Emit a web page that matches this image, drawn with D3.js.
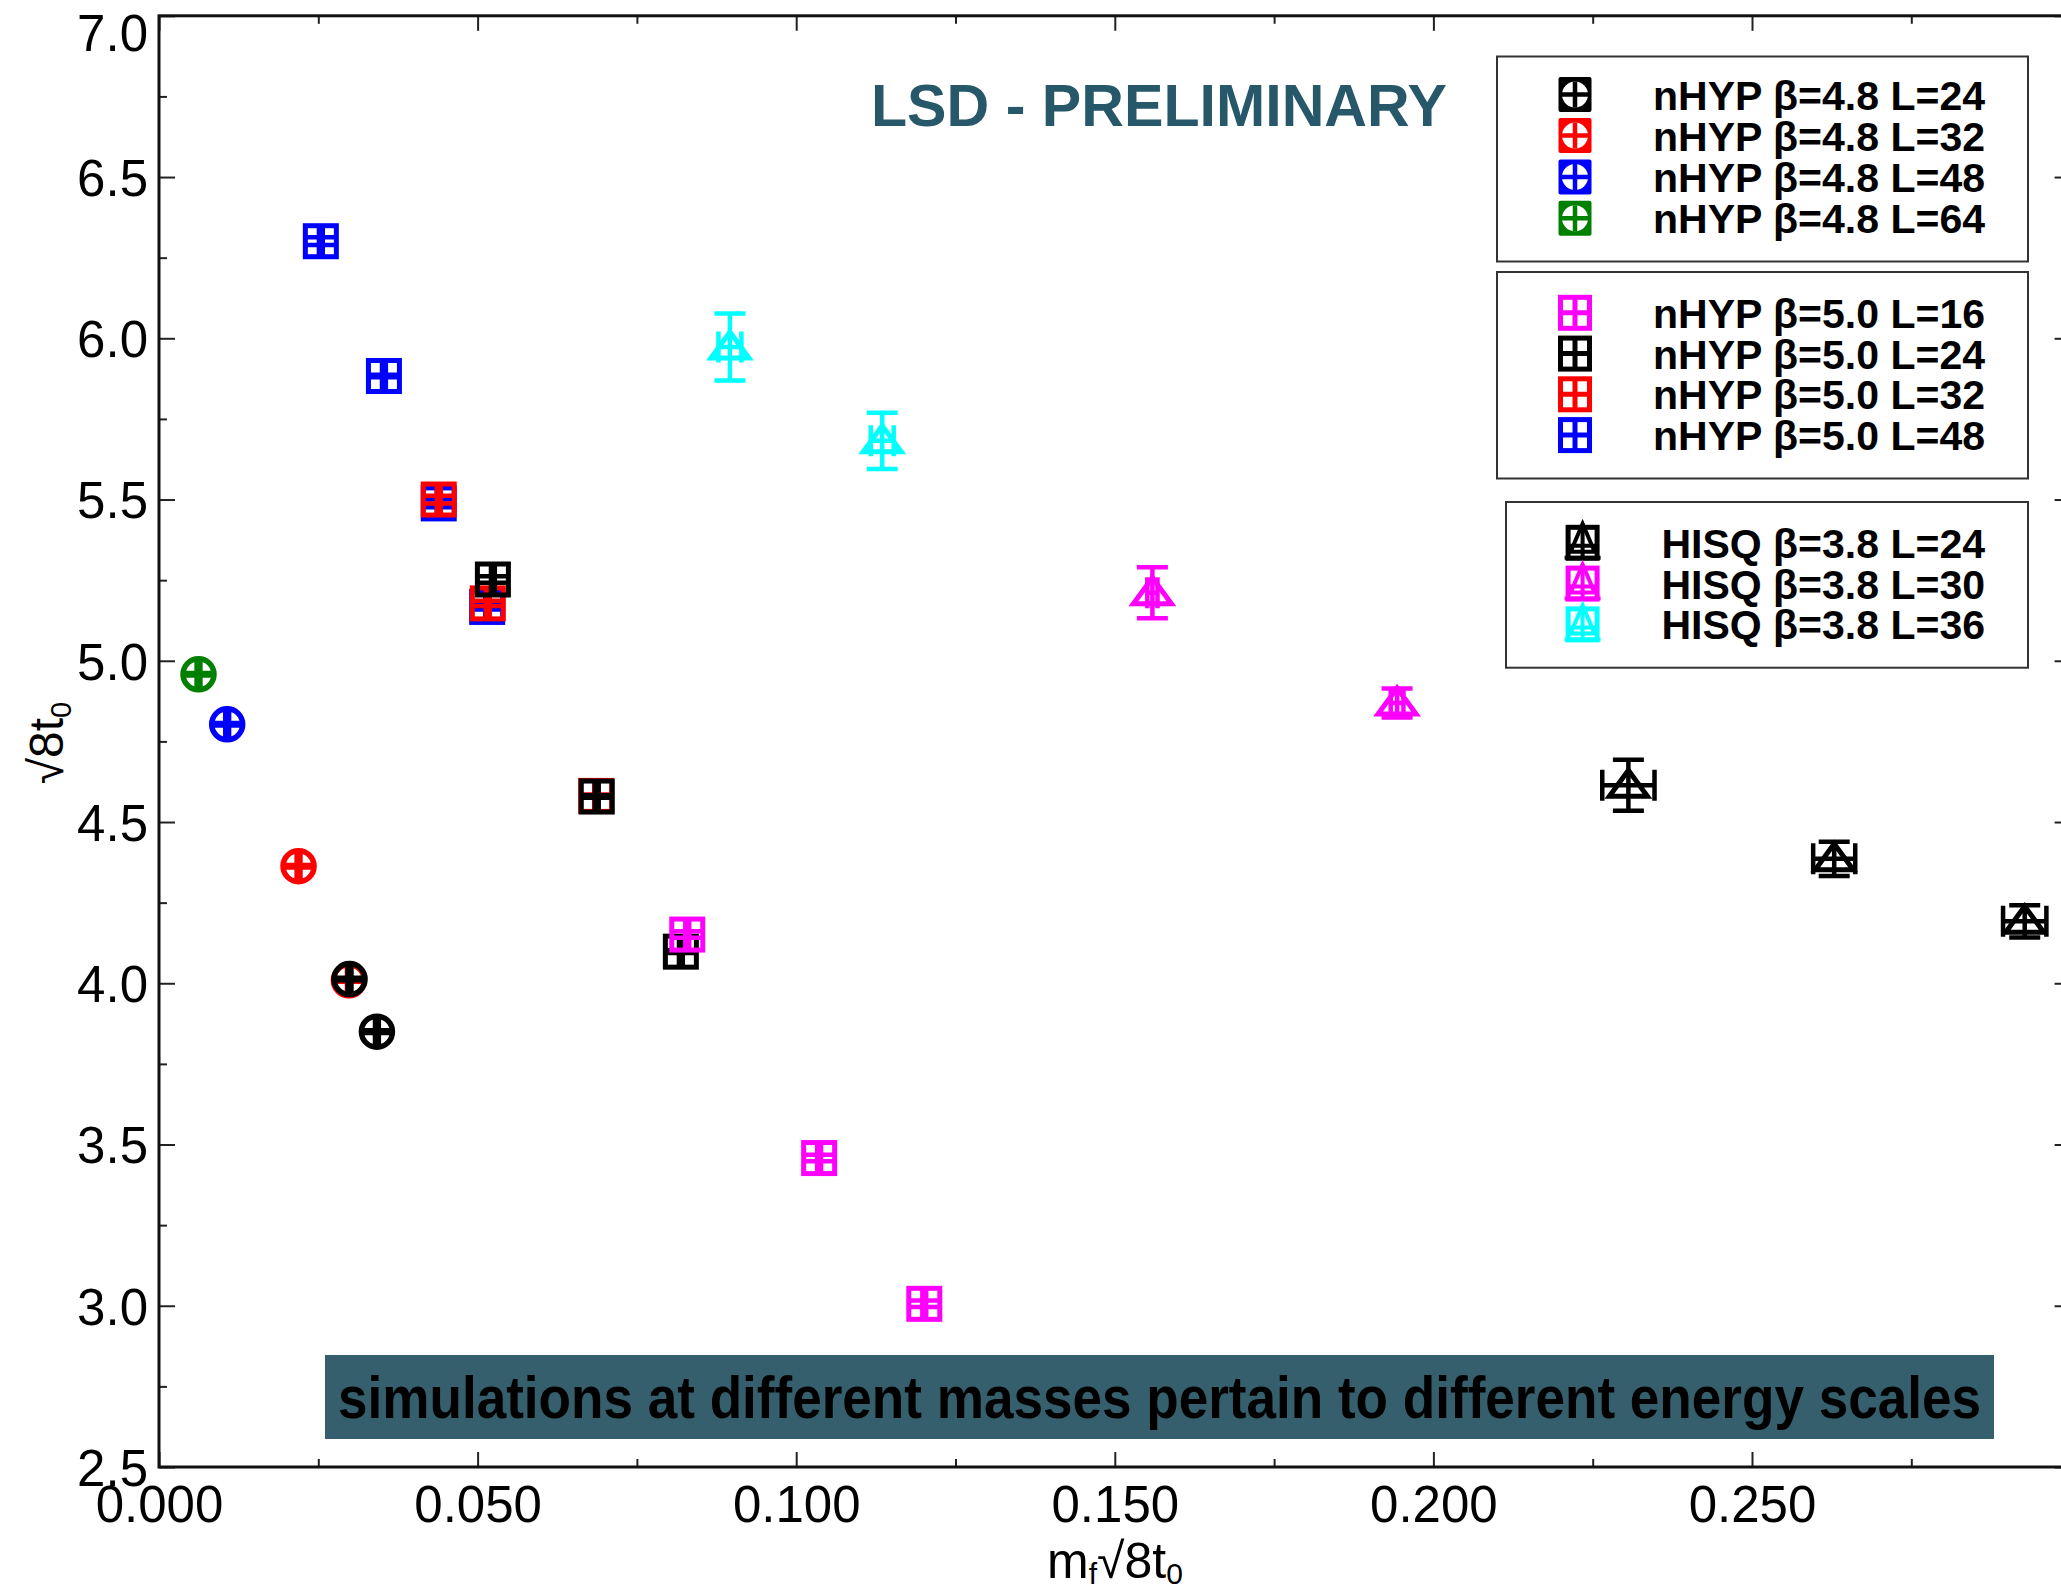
<!DOCTYPE html>
<html>
<head>
<meta charset="utf-8">
<script src="https://cdn.jsdelivr.net/npm/d3@7"></script>
<style>
  body { margin: 0; background: #fff; }
  text { font-family: 'Liberation Sans', Arial, Helvetica, sans-serif; }
</style>
</head>
<body>
<svg id="chart" width="2061" height="1590"></svg>
<script>
// Each point: [m_f*sqrt(8 t0), sqrt(8 t0), x error, y error]
const nhyp48_L24 = [[0.0299, 4.013, 0.0003, 0.004], [0.0342, 3.850, 0.0003, 0.004]];
const nhyp48_L32 = [[0.0219, 4.363, 0.0003, 0.004], [0.0298, 4.009, 0.0003, 0.004]];
const nhyp48_L48 = [[0.0107, 4.803, 0.0003, 0.004]];
const nhyp48_L64 = [[0.0062, 4.958, 0.0003, 0.004]];

const nhyp50_L16 = [[0.0829, 4.151, 0.0003, 0.010], [0.1036, 3.458, 0.0003, 0.010], [0.1201, 3.006, 0.0003, 0.010]];
const nhyp50_L24 = [[0.0524, 5.252, 0.0003, 0.010], [0.0687, 4.579, 0.0003, 0.004], [0.0819, 4.098, 0.0003, 0.004]];
const nhyp50_L32 = [[0.0439, 5.500, 0.0003, 0.012], [0.0516, 5.178, 0.0003, 0.008], [0.0686, 4.581, 0.0003, 0.004]];
const nhyp50_L48 = [[0.0254, 6.301, 0.0003, 0.012], [0.0353, 5.883, 0.0003, 0.004], [0.0439, 5.488, 0.0003, 0.012], [0.0515, 5.167, 0.0003, 0.008]];

const hisq38_L24 = [[0.2306, 4.614, 0.0041, 0.079], [0.2629, 4.386, 0.0033, 0.053], [0.2928, 4.192, 0.0034, 0.050]];
const hisq38_L30 = [[0.1559, 5.211, 0.0008, 0.079], [0.1943, 4.869, 0.0010, 0.045]];
const hisq38_L36 = [[0.0896, 5.973, 0.0018, 0.104], [0.1135, 5.682, 0.0018, 0.087]];

// Axis ticks
const xMajorTicks = [0, 0.05, 0.10, 0.15, 0.20, 0.25, 0.30];
const xLabelTicks = [0, 0.05, 0.10, 0.15, 0.20, 0.25];
const xMinorTicks = [0.025, 0.075, 0.125, 0.175, 0.225, 0.275];
const yMajorTicks = [2.5, 3.0, 3.5, 4.0, 4.5, 5.0, 5.5, 6.0, 6.5, 7.0];
const yMinorTicks = [2.75, 3.25, 3.75, 4.25, 4.75, 5.25, 5.75, 6.25, 6.75];

// Legend groups
const legendGroups = [
  [
    { label: "nHYP β=4.8 L=24", data: nhyp48_L24, color: "#000000", marker: "circle" },
    { label: "nHYP β=4.8 L=32", data: nhyp48_L32, color: "#ff0000", marker: "circle" },
    { label: "nHYP β=4.8 L=48", data: nhyp48_L48, color: "#0000ff", marker: "circle" },
    { label: "nHYP β=4.8 L=64", data: nhyp48_L64, color: "#008000", marker: "circle" }
  ],
  [
    { label: "nHYP β=5.0 L=16", data: nhyp50_L16, color: "#ff00ff", marker: "square" },
    { label: "nHYP β=5.0 L=24", data: nhyp50_L24, color: "#000000", marker: "square" },
    { label: "nHYP β=5.0 L=32", data: nhyp50_L32, color: "#ff0000", marker: "square" },
    { label: "nHYP β=5.0 L=48", data: nhyp50_L48, color: "#0000ff", marker: "square" }
  ],
  [
    { label: "HISQ β=3.8 L=24", data: hisq38_L24, color: "#000000", marker: "triangle" },
    { label: "HISQ β=3.8 L=30", data: hisq38_L30, color: "#ff00ff", marker: "triangle" },
    { label: "HISQ β=3.8 L=36", data: hisq38_L36, color: "#00ffff", marker: "triangle" }
  ]
];

const svg = d3.select("#chart");
const plot = { left: 159, right: 2070.6, top: 15.8, bottom: 1467 };

const x = d3.scaleLinear().domain([0, 0.3]).range([plot.left, plot.right]);
const y = d3.scaleLinear().domain([2.5, 7.0]).range([plot.bottom, plot.top]);

svg.append("rect").attr("width", 2061).attr("height", 1590).attr("fill", "#fff");

// ---- axes ----
function styleAxis(g) {
  g.select(".domain").remove();
  g.selectAll(".tick line").attr("stroke", "#222").attr("stroke-width", 2);
  g.selectAll(".tick text")
    .attr("fill", "#000")
    .style("font-family", "'Liberation Sans', Arial, Helvetica, sans-serif")
    .style("font-size", "51px");
}

// bottom
svg.append("g").attr("transform", `translate(0,${plot.bottom})`)
  .call(d3.axisBottom(x).tickValues(xMinorTicks).tickSize(-8).tickFormat(""))
  .call(styleAxis);
svg.append("g").attr("transform", `translate(0,${plot.bottom})`)
  .call(d3.axisBottom(x).tickValues(xMajorTicks).tickSize(-15).tickPadding(19)
        .tickFormat(d => xLabelTicks.some(v => Math.abs(v - d) < 1e-9) ? d3.format(".3f")(d) : ""))
  .call(styleAxis);
// top
svg.append("g").attr("transform", `translate(0,${plot.top})`)
  .call(d3.axisTop(x).tickValues(xMinorTicks).tickSize(-8).tickFormat(""))
  .call(styleAxis);
svg.append("g").attr("transform", `translate(0,${plot.top})`)
  .call(d3.axisTop(x).tickValues(xMajorTicks).tickSize(-15).tickFormat(""))
  .call(styleAxis);
// left
svg.append("g").attr("transform", `translate(${plot.left},0)`)
  .call(d3.axisLeft(y).tickValues(yMinorTicks).tickSize(-8).tickFormat(""))
  .call(styleAxis);
const yAxisG = svg.append("g").attr("transform", `translate(${plot.left},0)`)
  .call(d3.axisLeft(y).tickValues(yMajorTicks).tickSize(-16).tickPadding(11).tickFormat(d3.format(".1f")))
  .call(styleAxis);
yAxisG.selectAll(".tick text").attr("dy", d => d === 7.0 ? "0.68em" : "0.36em");
// right
svg.append("g").attr("transform", `translate(${plot.right},0)`)
  .call(d3.axisRight(y).tickValues(yMinorTicks).tickSize(-8).tickFormat(""))
  .call(styleAxis);
svg.append("g").attr("transform", `translate(${plot.right},0)`)
  .call(d3.axisRight(y).tickValues(yMajorTicks).tickSize(-16).tickFormat(""))
  .call(styleAxis);

// frame
svg.append("rect")
  .attr("x", plot.left).attr("y", plot.top)
  .attr("width", plot.right - plot.left).attr("height", plot.bottom - plot.top)
  .attr("fill", "none").attr("stroke", "#111").attr("stroke-width", 3);

// axis titles
const xt = svg.append("text").attr("x", 1115).attr("y", 1578)
  .attr("text-anchor", "middle").style("font-size", "50px").attr("fill", "#000");
xt.append("tspan").text("m");
xt.append("tspan").attr("dy", 6).style("font-size", "30px").text("f");
xt.append("tspan").attr("dy", -6).text("√8t");
xt.append("tspan").attr("dy", 6).style("font-size", "30px").text("0");

const yt = svg.append("text").attr("transform", "translate(63,743) rotate(-90)")
  .attr("text-anchor", "middle").style("font-size", "48px").attr("fill", "#000");
yt.append("tspan").text("√8t");
yt.append("tspan").attr("dy", 8).style("font-size", "29px").text("0");

// ---- markers ----
const CAP = 15.5;      // half-length of error-bar caps
const LW = 5;          // marker line width

function drawMarkerShape(g, marker, color) {
  if (marker === "circle") {
    g.append("circle").attr("r", 15.5).attr("fill", "none")
      .attr("stroke", color).attr("stroke-width", 5.5);
  } else if (marker === "square") {
    g.append("rect").attr("x", -15.5).attr("y", -15.5).attr("width", 31).attr("height", 31)
      .attr("fill", "none").attr("stroke", color).attr("stroke-width", LW);
  } else {
    g.append("path").attr("d", "M0,-15L19,11L-19,11Z")
      .attr("fill", "none").attr("stroke", color).attr("stroke-width", LW)
      .attr("stroke-linejoin", "miter");
  }
}

function drawPoint(layer, p, marker, color) {
  const [vx, vy, ex, ey] = p;
  const cx = x(vx), cy = y(vy);
  const g = layer.append("g").attr("transform", `translate(${cx},${cy})`);
  drawMarkerShape(g, marker, color);
  const xl = x(vx - ex) - cx, xr = x(vx + ex) - cx;
  const yt2 = y(vy + ey) - cy, yb = y(vy - ey) - cy;
  const path = d3.path();
  // horizontal error bar with caps
  path.moveTo(xl, 0); path.lineTo(xr, 0);
  path.moveTo(xl, -CAP); path.lineTo(xl, CAP);
  path.moveTo(xr, -CAP); path.lineTo(xr, CAP);
  // vertical error bar with caps
  path.moveTo(0, yt2); path.lineTo(0, yb);
  path.moveTo(-CAP, yt2); path.lineTo(CAP, yt2);
  path.moveTo(-CAP, yb); path.lineTo(CAP, yb);
  g.append("path").attr("d", path.toString()).attr("fill", "none")
    .attr("stroke", color).attr("stroke-width", 4.5);
}

const pointsLayer = svg.append("g");
legendGroups.slice().reverse().forEach(group => {
  group.slice().reverse().forEach(s => {
    s.data.forEach(p => drawPoint(pointsLayer, p, s.marker, s.color));
  });
});

// ---- legend ----
const legendBoxes = [
  { x: 1497, y: 56.5, w: 531, h: 205, rows: [94.6, 135.6, 177, 218.2], symX: 1575 },
  { x: 1497, y: 272, w: 531, h: 206.5, rows: [312.8, 353.6, 394.3, 435.1], symX: 1575 },
  { x: 1506, y: 502, w: 522, h: 165.7, rows: [542.8, 583.6, 624.4], symX: 1582.6 }
];

function drawLegendSymbol(g, marker, color) {
  if (marker === "circle") {
    g.append("rect").attr("x", -16.5).attr("y", -17.5).attr("width", 33).attr("height", 35)
      .attr("rx", 2).attr("fill", color);
    g.append("circle").attr("r", 13).attr("fill", "#fff");
    g.append("path").attr("d", "M-13,0H13M0,-13V13").attr("stroke", color).attr("stroke-width", 4.5);
  } else if (marker === "square") {
    g.append("rect").attr("x", -14.5).attr("y", -15.5).attr("width", 29).attr("height", 31)
      .attr("fill", "none").attr("stroke", color).attr("stroke-width", 5);
    g.append("path").attr("d", "M-14.5,0H14.5M0,-15.5V15.5").attr("stroke", color).attr("stroke-width", 5);
  } else {
    g.append("rect").attr("x", -14.5).attr("y", -15.5).attr("width", 29).attr("height", 31)
      .attr("fill", "none").attr("stroke", color).attr("stroke-width", 5);
    g.append("path").attr("d", "M0,-19L12,9L-12,9Z").attr("fill", "none")
      .attr("stroke", color).attr("stroke-width", 4);
    g.append("path").attr("d", "M0,-19V16M-14.5,3H14.5M-18,15H18")
      .attr("stroke", color).attr("stroke-width", 4);
  }
}

legendGroups.forEach((group, gi) => {
  const b = legendBoxes[gi];
  svg.append("rect").attr("x", b.x).attr("y", b.y).attr("width", b.w).attr("height", b.h)
    .attr("fill", "#fff").attr("stroke", "#333").attr("stroke-width", 2);
  group.forEach((s, i) => {
    const cy = b.rows[i];
    const g = svg.append("g").attr("transform", `translate(${b.symX},${cy})`);
    drawLegendSymbol(g, s.marker, s.color);
    svg.append("text").attr("x", 1985).attr("y", cy + 15)
      .attr("text-anchor", "end").style("font-size", "41px").style("font-weight", "bold")
      .attr("fill", "#000").text(s.label);
  });
});

// ---- annotations ----
svg.append("text").attr("x", 871).attr("y", 126)
  .style("font-size", "60px").style("font-weight", "bold").attr("fill", "#26586a")
  .attr("textLength", 576).attr("lengthAdjust", "spacingAndGlyphs")
  .text("LSD - PRELIMINARY");

svg.append("rect").attr("x", 325).attr("y", 1355).attr("width", 1669).attr("height", 84)
  .attr("fill", "#355f6d");
svg.append("text").attr("x", 338).attr("y", 1418)
  .style("font-size", "60px").style("font-weight", "bold").attr("fill", "#000")
  .attr("textLength", 1643).attr("lengthAdjust", "spacingAndGlyphs")
  .text("simulations at different masses pertain to different energy scales");
</script>
</body>
</html>
